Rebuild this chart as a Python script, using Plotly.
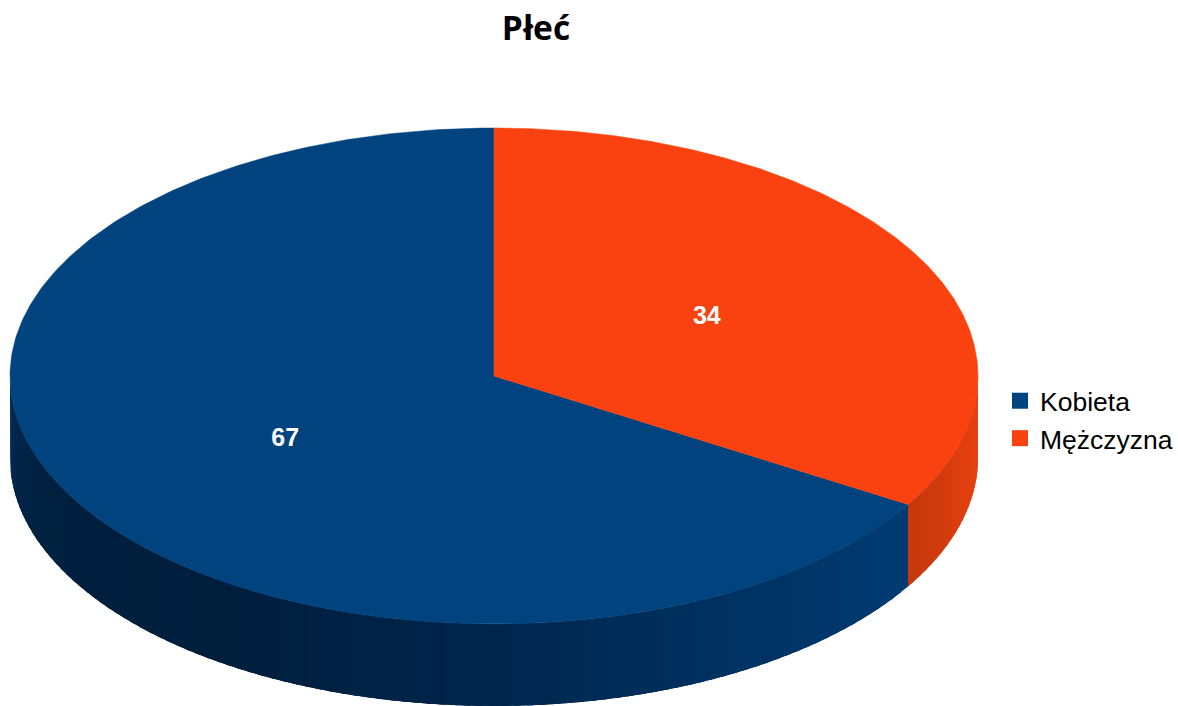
import numpy as np
import plotly.graph_objects as go

title = "Płeć"
categories = ["Kobieta", "Mężczyzna"]
values = [67, 34]
top_colors = ["#00437f", "#f9420f"]
# side shading stops: (clockwise angle from top, colour)
side_stops = {
    "Kobieta": [(121, (0, 60, 116)), (150, (0, 50, 98)), (185, (0, 36, 74)), (215, (0, 30, 60)), (250, (0, 32, 64)), (270, (2, 44, 84))],
    "Mężczyzna": [(90, (236, 66, 16)), (105, (222, 62, 14)), (122, (196, 56, 12))],
}

W, H = 1178, 706
CX, CY, RX, RY, DEPTH = 494, 376, 484, 248, 82
LABEL_DX, LABEL_DY = 2, 3


def ell(theta):
    t = np.radians(theta)
    return CX + RX * np.sin(t), CY - RY * np.cos(t)


def shade(stops, a):
    xs = [s[0] for s in stops]
    rgb = [np.interp(a, xs, [s[1][i] for s in stops]) for i in range(3)]
    return "rgb(%d,%d,%d)" % tuple(int(round(c)) for c in rgb)


total = sum(values)
spans = [v / total * 360 for v in values]
fig = go.Figure()

# Sectors: Mężczyzna runs clockwise from 12 o'clock, Kobieta fills the rest
ranges = {"Mężczyzna": (0, spans[1]), "Kobieta": (spans[1], 360)}

# Visible rim, drawn as narrow shaded strips that overlap the next one
for name in categories:
    a0, a1 = ranges[name]
    a0, a1 = max(a0, 90), min(a1, 270)
    n = max(4, int((a1 - a0) / 1.5))
    edges = np.linspace(a0, a1, n + 1)
    step = edges[1] - edges[0]
    for e0 in edges[:-1]:
        ang = np.linspace(e0, min(e0 + 2.5 * step, a1), 7)
        x, y = ell(ang)
        col = shade(side_stops[name], e0 + step / 2)
        fig.add_trace(go.Scatter(
            x=np.r_[x, x[::-1]], y=np.r_[y, y[::-1] + DEPTH],
            mode="lines", fill="toself", fillcolor=col,
            line=dict(width=0), showlegend=False, hoverinfo="skip"))

# Top faces
for name, col in zip(categories, top_colors):
    a0, a1 = ranges[name]
    ang = np.linspace(a0, a1, 300)
    x, y = ell(ang)
    fig.add_trace(go.Scatter(
        x=np.r_[CX, x, CX], y=np.r_[CY, y, CY],
        mode="lines", fill="toself", fillcolor=col,
        line=dict(color=col, width=0.5), showlegend=False, name=name, hoverinfo="name"))

# Value labels at half radius of each sector's middle angle
for name, v in zip(categories, values):
    a0, a1 = ranges[name]
    t = np.radians((a0 + a1) / 2)
    fig.add_trace(go.Scatter(
        x=[CX + 0.5 * RX * np.sin(t) + LABEL_DX], y=[CY - 0.5 * RY * np.cos(t) + LABEL_DY],
        mode="text", text=[str(v)], textposition="middle center",
        textfont=dict(family="Liberation Sans", size=25, color="white", weight="bold"),
        showlegend=False, hoverinfo="skip"))

# Legend entries
for name, col in zip(categories, top_colors):
    fig.add_trace(go.Scatter(
        x=[None], y=[None], mode="markers", name=name,
        marker=dict(symbol="square", size=16, color=col)))

fig.update_layout(
    width=W, height=H, autosize=False,
    margin=dict(l=0, r=0, t=0, b=0),
    paper_bgcolor="white", plot_bgcolor="white",
    xaxis=dict(range=[0, W], visible=False, fixedrange=True),
    yaxis=dict(range=[H, 0], visible=False, fixedrange=True),
    title=dict(text=title, x=536 / W, xanchor="center", y=1 - 28 / H, yanchor="middle",
               font=dict(family="Open Sans", size=33.5, color="black", weight="bold")),
    legend=dict(x=1000 / W, xanchor="left", y=1 - 377 / H, yanchor="top",
                bgcolor="rgba(0,0,0,0)", itemwidth=30,
                font=dict(family="Liberation Sans", size=26.5, color="black")),
)

fig.write_html("out.html", config={"displayModeBar": False},
               post_script="document.body.style.margin='0';")
